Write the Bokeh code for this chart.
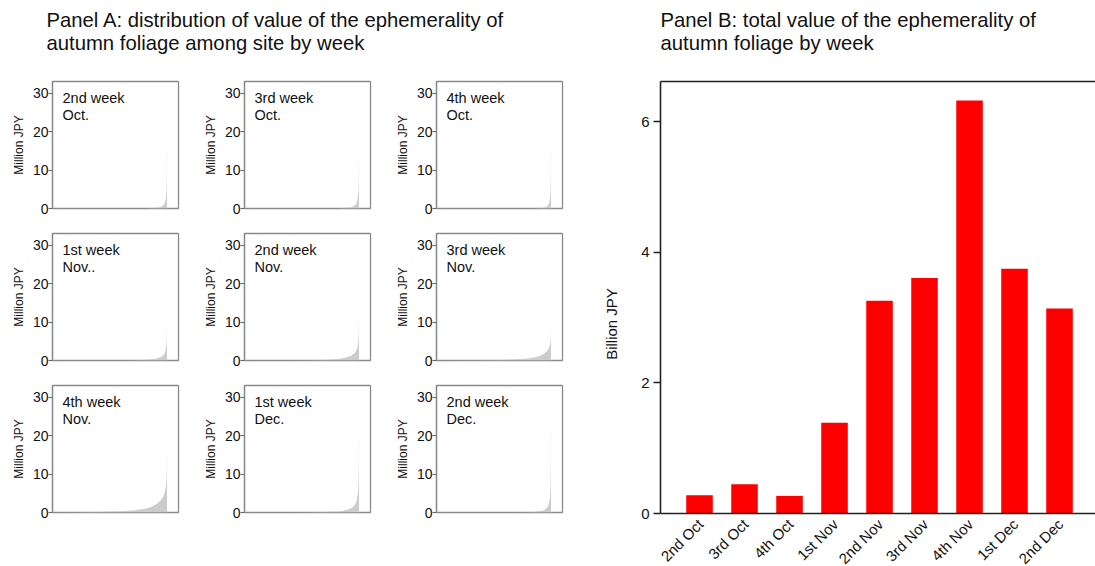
import math
from bokeh.plotting import figure
from bokeh.layouts import row, column
from bokeh.models import Range1d, FixedTicker, Label, LinearAxis, ColumnDataSource
from bokeh.core.properties import value
from bokeh.embed import file_html
from bokeh.resources import INLINE

FONT = "Liberation Sans"

# ---------------- data ----------------
title_a = ["Panel A: distribution of value of the ephemerality of",
           "autumn foliage among site by week"]
title_b = ["Panel B: total value of the ephemerality  of",
           "autumn foliage by week"]

panel_line1 = ["2nd week", "3rd week", "4th week",
               "1st week", "2nd week", "3rd week",
               "4th week", "1st week", "2nd week"]
panel_line2 = ["Oct.", "Oct.", "Oct.",
               "Nov..", "Nov.", "Nov.",
               "Nov.", "Dec.", "Dec."]

# sites sorted by value (percentile rank of site)
site_pct = [0, 40, 60, 70, 80, 85, 90, 93, 95, 97, 98, 99, 99.5, 99.8, 100]

val_2nd_oct = [0, 0, 0, 0, 0.02, 0.05, 0.15, 0.3, 0.5, 0.9, 1.4, 2.6, 4.5, 8, 18]
val_3rd_oct = [0, 0, 0, 0, 0.03, 0.08, 0.2, 0.35, 0.6, 1.0, 1.6, 2.8, 4.5, 8, 16.5]
val_4th_oct = [0, 0, 0, 0, 0, 0.03, 0.1, 0.2, 0.35, 0.7, 1.1, 2.2, 4, 8, 19.5]
val_1st_nov = [0, 0, 0.02, 0.05, 0.15, 0.25, 0.45, 0.7, 0.95, 1.4, 1.9, 2.9, 4, 6, 11]
val_2nd_nov = [0, 0.02, 0.08, 0.15, 0.35, 0.55, 0.9, 1.25, 1.6, 2.2, 2.8, 3.9, 5.2, 7.5, 13.5]
val_3rd_nov = [0, 0.05, 0.15, 0.3, 0.55, 0.8, 1.2, 1.6, 2, 2.6, 3.1, 4, 4.8, 6, 8]
val_4th_nov = [0, 0.1, 0.3, 0.5, 0.9, 1.3, 2, 2.7, 3.3, 4.3, 5.2, 6.8, 8.5, 11, 16.5]
val_1st_dec = [0, 0.02, 0.05, 0.1, 0.25, 0.4, 0.7, 1.1, 1.5, 2.3, 3.2, 5, 7.5, 12, 23]
val_2nd_dec = [0, 0, 0, 0.02, 0.08, 0.15, 0.3, 0.5, 0.8, 1.4, 2.1, 3.8, 6.5, 12, 27]

panel_values = [val_2nd_oct, val_3rd_oct, val_4th_oct,
                val_1st_nov, val_2nd_nov, val_3rd_nov,
                val_4th_nov, val_1st_dec, val_2nd_dec]

small_ticks = [0, 10, 20, 30]

bar_labels = ["2nd Oct", "3rd Oct", "4th Oct", "1st Nov", "2nd Nov",
              "3rd Nov", "4th Nov", "1st Dec", "2nd Dec"]
bar_values = [0.28, 0.45, 0.27, 1.39, 3.26, 3.61, 6.33, 3.75, 3.14]
bar_ticks = [0, 2, 4, 6]

# ---------------- header ----------------
HEADER_H = 67
header = figure(width=1095, height=HEADER_H, x_range=Range1d(0, 1095),
                y_range=Range1d(0, HEADER_H), output_backend="svg",
                toolbar_location=None, x_axis_location=None, y_axis_location=None,
                min_border=0, min_border_left=0, min_border_right=0,
                min_border_top=0, min_border_bottom=0)
header.frame_align = False
header.outline_line_color = None
header.xgrid.visible = False
header.ygrid.visible = False
for xpos, lines in [(46, title_a), (660, title_b)]:
    for i, t in enumerate(lines):
        header.add_layout(Label(x=xpos, y=HEADER_H - 19 - 23 * i, text=t,
                                text_font=FONT, text_font_size="20.3px",
                                text_color="#111111", text_baseline="alphabetic"))

# ---------------- small panels ----------------
def small_panel(vals, l1, l2, first_col):
    left = 52 if first_col else 44
    p = figure(width=left + 126 + 22, height=152, x_range=Range1d(0, 110),
               y_range=Range1d(0, 33), output_backend="svg",
               toolbar_location=None, x_axis_location=None,
               min_border_left=left, min_border_right=22,
               min_border_top=14, min_border_bottom=11)
    p.varea(x=site_pct, y1=0, y2=vals, fill_color="#cccccc", fill_alpha=1.0)
    p.xgrid.visible = False
    p.ygrid.visible = False
    p.outline_line_color = "#8a8a8a"
    p.outline_line_width = 1.3
    ax = p.yaxis[0]
    ax.ticker = FixedTicker(ticks=small_ticks)
    ax.axis_line_color = "#8a8a8a"
    ax.axis_line_width = 1.3
    ax.major_tick_line_color = "#666666"
    ax.major_tick_out = 4
    ax.major_tick_in = 0
    ax.minor_tick_line_color = None
    ax.major_label_standoff = 0
    ax.major_label_text_font = FONT
    ax.major_label_text_font_size = "14px"
    ax.major_label_text_color = "#111111"
    ax.axis_label = "Million JPY"
    ax.axis_label_text_font = FONT
    ax.axis_label_text_font_size = "12px"
    ax.axis_label_text_font_style = "normal"
    ax.axis_label_text_color = "#111111"
    ax.axis_label_standoff = 4
    fh = 152 - 14 - 11
    p.add_layout(Label(x=10, y=fh - 16, x_units="screen", y_units="screen",
                       text=l1, text_font=FONT, text_font_size="14.5px",
                       text_color="#111111", text_baseline="alphabetic"))
    p.add_layout(Label(x=10, y=fh - 33, x_units="screen", y_units="screen",
                       text=l2, text_font=FONT, text_font_size="14.5px",
                       text_color="#111111", text_baseline="alphabetic"))
    return p

panels = [small_panel(v, a, b, i % 3 == 0)
          for i, (v, a, b) in enumerate(zip(panel_values, panel_line1, panel_line2))]
grid = column(row(panels[0:3]), row(panels[3:6]), row(panels[6:9]))

# ---------------- bar chart ----------------
BAR_W = 511
BAR_LEFT = 76
PX_PER_CAT = 45.0
X_START = -0.867
X_END = X_START + (BAR_W - BAR_LEFT) / PX_PER_CAT
Y_TOP = 6.62
BAR_H = 566 - HEADER_H
FRAME_H = BAR_H - 14
PX_PER_UNIT = 432 / Y_TOP
Y_START = -(FRAME_H - 432) / PX_PER_UNIT   # room below zero for the labels

bar_x = list(range(len(bar_labels)))
bar_src = ColumnDataSource(dict(x=bar_x, top=bar_values, label=bar_labels,
                                base=[0] * len(bar_x)))
bp = figure(width=BAR_W, height=BAR_H, x_range=Range1d(X_START, X_END),
            y_range=Range1d(Y_START, Y_TOP), output_backend="svg",
            toolbar_location=None,
            min_border_left=BAR_LEFT, min_border_right=0,
            min_border_top=14, min_border_bottom=0)
bp.frame_align = False
bp.vbar(x="x", top="top", width=0.59, source=bar_src, fill_color="#ff0000",
        line_color=None)
bp.xgrid.visible = False
bp.ygrid.visible = False
bp.outline_line_color = None

yax = bp.yaxis[0]
yax.ticker = FixedTicker(ticks=bar_ticks)
yax.bounds = (0, Y_TOP)
yax.axis_line_color = "#222222"
yax.axis_line_width = 1.6
yax.major_tick_line_color = "#222222"
yax.major_tick_line_width = 1.3
yax.major_tick_out = 7
yax.major_tick_in = 0
yax.minor_tick_line_color = None
yax.major_label_standoff = 4
yax.major_label_text_font = FONT
yax.major_label_text_font_size = "15px"
yax.major_label_text_color = "#111111"
yax.axis_label = "Billion JPY"
yax.axis_label_text_font = FONT
yax.axis_label_text_font_size = "15px"
yax.axis_label_text_font_style = "normal"
yax.axis_label_text_color = "#111111"
yax.axis_label_standoff = 18

xax = bp.xaxis[0]
xax.fixed_location = 0
xax.ticker = FixedTicker(ticks=[])
xax.axis_line_color = "#222222"
xax.axis_line_width = 1.6
xax.major_tick_line_color = None
xax.minor_tick_line_color = None
xax.major_tick_out = 0
xax.minor_tick_out = 0
xax.major_label_standoff = 0
xax.major_label_text_font_size = "0px"

top_axis = LinearAxis(ticker=FixedTicker(ticks=[]), axis_line_color="#222222",
                      axis_line_width=1.6, major_tick_line_color=None,
                      minor_tick_line_color=None, major_tick_out=0,
                      minor_tick_out=0, major_label_text_font_size="0px")
bp.add_layout(top_axis, "above")

# rotated category labels under the bars
bp.text(x="x", y="base", text="label", source=bar_src, angle=math.pi / 4,
        x_offset=1, y_offset=8, text_align="right", text_baseline="middle",
        text_font=value(FONT), text_font_size="15px", text_color="#111111")

layout = column(header, row(grid, bp))

with open("out.html", "w") as f:
    f.write(file_html(layout, INLINE))
